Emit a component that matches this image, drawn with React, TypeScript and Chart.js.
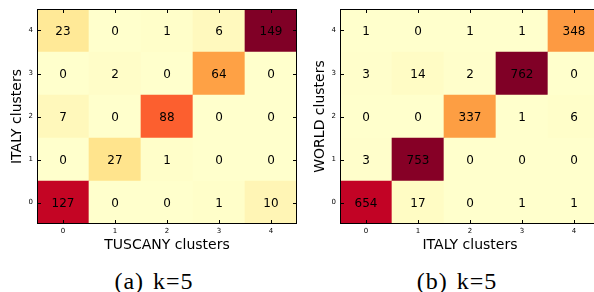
import React, { useEffect, useRef } from "react";
import { Chart, registerables } from "chart.js";

Chart.register(...registerables);

// ---- data ----
const tickLabels = ["0", "1", "2", "3", "4"];

// (a) rows are ITALY clusters 0..4 (bottom to top), columns TUSCANY clusters 0..4
const aRow0 = [127, 0, 0, 1, 10];
const aRow1 = [0, 27, 1, 0, 0];
const aRow2 = [7, 0, 88, 0, 0];
const aRow3 = [0, 2, 0, 64, 0];
const aRow4 = [23, 0, 1, 6, 149];

// (b) rows are WORLD clusters 0..4 (bottom to top), columns ITALY clusters 0..4
const bRow0 = [654, 17, 0, 1, 1];
const bRow1 = [3, 753, 0, 0, 0];
const bRow2 = [0, 0, 337, 1, 6];
const bRow3 = [3, 14, 2, 762, 0];
const bRow4 = [1, 0, 1, 1, 348];

const captionA = "(a) k=5";
const captionB = "(b) k=5";

// ---- colormap (matplotlib YlOrRd) ----
const YL_OR_RD: [number, number, number][] = [
  [255, 255, 204],
  [255, 237, 160],
  [254, 217, 118],
  [254, 178, 76],
  [253, 141, 60],
  [252, 78, 42],
  [227, 26, 28],
  [189, 0, 38],
  [128, 0, 38],
];

function cmap(t: number): string {
  const tt = Math.max(0, Math.min(1, t));
  const q = Math.round(tt * 255) / 255;
  const pos = q * (YL_OR_RD.length - 1);
  const i = Math.min(YL_OR_RD.length - 2, Math.floor(pos));
  const f = pos - i;
  const a = YL_OR_RD[i];
  const b = YL_OR_RD[i + 1];
  const c = a.map((v, k) => Math.round(v + (b[k] - v) * f));
  return `rgb(${c[0]},${c[1]},${c[2]})`;
}

const SANS = "'DejaVu Sans', sans-serif";

type HeatProps = {
  rows: number[][];
  xTitle: string;
  yTitle: string;
  left: number;
};

function Heatmap({ rows, xTitle, yTitle, left }: HeatProps) {
  const ref = useRef<HTMLCanvasElement | null>(null);

  useEffect(() => {
    if (!ref.current) return;
    const vmax = Math.max(...rows.map((r) => Math.max(...r)));

    const framePlugin = {
      id: "frame",
      afterDatasetsDraw(chart: any) {
        const ctx = chart.ctx;
        const xs = chart.scales.x;
        const ys = chart.scales.y;
        ctx.save();
        ctx.fillStyle = "#000";
        ctx.font = `12px ${SANS}`;
        ctx.textAlign = "center";
        ctx.textBaseline = "middle";
        rows.forEach((vals, r) => {
          vals.forEach((v, c) => {
            ctx.fillText(String(v), xs.getPixelForValue(c), ys.getPixelForValue(r) + 1);
          });
        });
        ctx.restore();
      },
      afterDraw(chart: any) {
        const ctx = chart.ctx;
        const { left: l, top: t, right: r, bottom: b } = chart.chartArea;
        const xs = chart.scales.x;
        const ys = chart.scales.y;
        ctx.save();
        ctx.strokeStyle = "#000";
        ctx.lineWidth = 1;
        ctx.strokeRect(l + 0.5, t + 0.5, r - l - 1, b - t - 1);
        const tl = 4;
        ctx.beginPath();
        for (let i = 0; i < tickLabels.length; i++) {
          const x = Math.round(xs.getPixelForValue(i)) + 0.5;
          ctx.moveTo(x, b);
          ctx.lineTo(x, b - tl);
          ctx.moveTo(x, t);
          ctx.lineTo(x, t + tl);
          const y = Math.round(ys.getPixelForValue(i)) + 0.5;
          ctx.moveTo(l, y);
          ctx.lineTo(l + tl, y);
          ctx.moveTo(r, y);
          ctx.lineTo(r - tl, y);
        }
        ctx.stroke();
        ctx.restore();
      },
    };

    const chart = new Chart(ref.current, {
      type: "bar",
      data: {
        labels: tickLabels,
        datasets: rows.map((vals, r) => ({
          data: vals.map(() => [r - 0.5, r + 0.5]),
          backgroundColor: vals.map((v) => cmap(v / vmax)),
          borderWidth: 0,
          barPercentage: 1,
          categoryPercentage: 1,
          grouped: false,
        })) as any,
      },
      options: {
        responsive: false,
        maintainAspectRatio: false,
        animation: false,
        layout: { padding: { top: 9, right: 3, bottom: 0, left: 0 } },
        plugins: {
          legend: { display: false },
          tooltip: { enabled: false },
        },
        scales: {
          x: {
            type: "category",
            offset: true,
            grid: { display: false, drawTicks: false },
            border: { display: false },
            ticks: {
              font: { family: SANS, size: 7 },
              color: "#000",
              padding: 3,
              maxRotation: 0,
              autoSkip: false,
            },
            title: {
              display: true,
              text: xTitle,
              color: "#000",
              font: { family: SANS, size: 14, lineHeight: 1.2 },
              padding: { top: 0, bottom: 6.6 },
            },
            afterFit: (s: any) => {
              s.height = 36;
            },
          },
          y: {
            type: "linear",
            min: -0.5,
            max: 4.5,
            grid: { display: false, drawTicks: false },
            border: { display: false },
            afterBuildTicks: (s: any) => {
              s.ticks = tickLabels.map((_, i) => ({ value: i }));
            },
            ticks: {
              font: { family: SANS, size: 7 },
              color: "#000",
              padding: 4,
              callback: (v: any) => tickLabels[Number(v)] ?? "",
            },
            title: {
              display: true,
              text: yTitle,
              color: "#000",
              font: { family: SANS, size: 14, lineHeight: 1.2 },
              padding: { top: 9, bottom: 0 },
            },
            afterFit: (s: any) => {
              s.width = 37;
            },
          },
        },
      } as any,
      plugins: [framePlugin],
    });
    return () => chart.destroy();
  }, [rows, xTitle, yTitle]);

  return (
    <canvas
      ref={ref}
      width={300}
      height={260}
      style={{ position: "absolute", left, top: 0, width: 300, height: 260, display: "block" }}
    />
  );
}

const rowsA = [aRow0, aRow1, aRow2, aRow3, aRow4];
const rowsB = [bRow0, bRow1, bRow2, bRow3, bRow4];

function Caption({ text, center }: { text: string; center: number }) {
  return (
    <div
      style={{
        position: "absolute",
        left: center - 100,
        width: 200,
        top: 269,
        textAlign: "center",
        fontFamily: "'Liberation Serif', serif",
        fontSize: 24,
        lineHeight: "24px",
        wordSpacing: 2,
        letterSpacing: 1,
        color: "#000",
        whiteSpace: "nowrap",
      }}
    >
      {text}
    </div>
  );
}

export default function App() {
  return (
    <div
      style={{
        position: "absolute",
        left: 0,
        top: 0,
        width: 594,
        height: 292,
        overflow: "hidden",
        background: "#fff",
      }}
    >
      <Heatmap rows={rowsA} xTitle="TUSCANY clusters" yTitle="ITALY clusters" left={0} />
      <Heatmap rows={rowsB} xTitle="ITALY clusters" yTitle="WORLD clusters" left={303} />
      <Caption text={captionA} center={154} />
      <Caption text={captionB} center={457} />
    </div>
  );
}
